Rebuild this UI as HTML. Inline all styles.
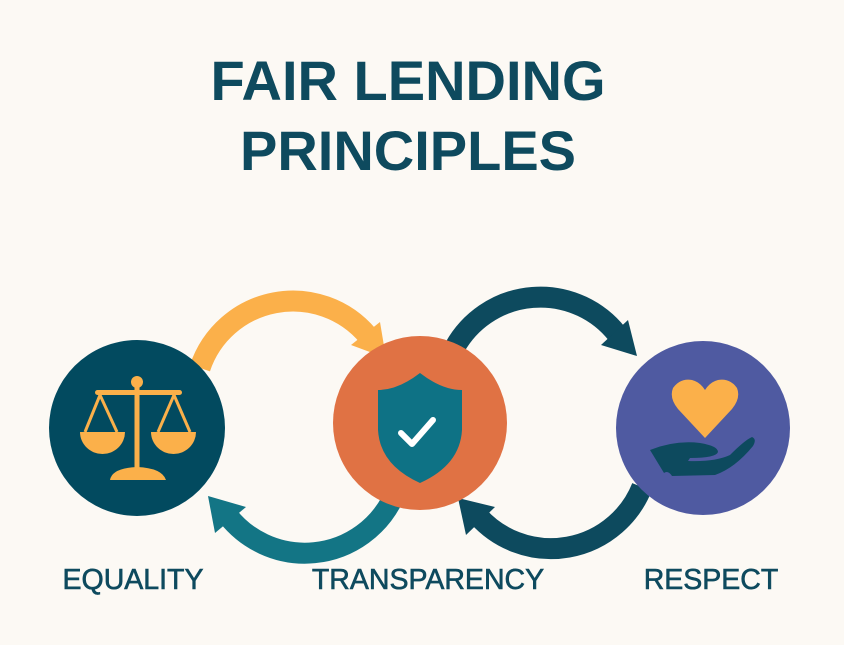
<!DOCTYPE html>
<html><head><style>
html,body{margin:0;padding:0;background:#fcf9f4;}
svg{display:block}
</style></head><body>
<svg width="844" height="645" viewBox="0 0 844 645" xmlns="http://www.w3.org/2000/svg">
<rect width="844" height="645" fill="#fcf9f4"/>
<g font-family="Liberation Sans, sans-serif" font-weight="bold" fill="#0e4a5e" text-anchor="middle">
<text x="408" y="100" font-size="56">FAIR LENDING</text>
<text x="408" y="170" font-size="56">PRINCIPLES</text>
<g font-size="28.5" font-weight="normal" stroke="#0e4a5e" stroke-width="0.6">
<text x="133" y="589">EQUALITY</text>
<text x="428" y="589">TRANSPARENCY</text>
<text x="711" y="589">RESPECT</text>
</g>
</g>
<!-- arrows -->
<g fill="none" stroke-width="21" stroke-linecap="butt">
<path d="M200,368 A98,98 0 0 1 368,336" stroke="#fbb04a"/>
<path d="M392,500 A98,98 0 0 1 228,516" stroke="#137585"/>
<path d="M455,347 A98,98 0 0 1 617,334" stroke="#0d4a5e"/>
<path d="M642,487 A98,98 0 0 1 478,516" stroke="#0d4a5e"/>
</g>
<polygon points="386,358 351,345 380,322" fill="#fbb04a"/>
<polygon points="208,496 215,533 246,507" fill="#137585"/>
<polygon points="637,356 601,345 628,320" fill="#0d4a5e"/>
<polygon points="458,498 466,535 495,507" fill="#0d4a5e"/>
<!-- circles -->
<circle cx="137" cy="428" r="88" fill="#024a5f"/>
<circle cx="420" cy="423" r="87" fill="#e07244"/>
<circle cx="703" cy="428" r="87" fill="#4f5aa1"/>
<!-- scales -->
<g fill="#fbb04a" stroke="#fbb04a">
<circle cx="137" cy="382" r="6" stroke="none"/>
<rect x="134.5" y="384" width="5" height="85" stroke="none"/>
<rect x="95" y="390" width="87" height="5" rx="2.5" stroke="none"/>
<line x1="100" y1="395" x2="85" y2="432" stroke-width="3"/>
<line x1="100" y1="395" x2="117" y2="432" stroke-width="3"/>
<line x1="174" y1="395" x2="158" y2="432" stroke-width="3"/>
<line x1="174" y1="395" x2="190" y2="432" stroke-width="3"/>
<path d="M80,432 L125,432 A22.5,22 0 0 1 80,432Z" stroke="none"/>
<path d="M151,432 L196,432 A22.5,22 0 0 1 151,432Z" stroke="none"/>
<path d="M110,480 Q112,468 137,467 Q162,468 166,480Z" stroke="none"/>
</g>
<!-- shield -->
<path d="M420,373 Q398,390 378,390 L378,430 Q380,465 420,483 Q460,465 462,430 L462,390 Q442,390 420,373Z" fill="#0e7285"/>
<polyline points="401,433 412,444 433,420" fill="none" stroke="#fff" stroke-width="6" stroke-linecap="round" stroke-linejoin="round"/>
<!-- heart -->
<path d="M705,438 L678,409 Q669,398 673,388 Q680,378 692,380 Q700,382 705,390 Q710,382 718,380 Q730,378 737,388 Q741,398 732,409Z" fill="#fbb04a"/>
<!-- hand -->
<path d="M650,450 Q675,440 700,443 Q718,446 718,452 Q716,458 690,458 L688,461 Q715,462 730,455 Q745,440 752,437 Q757,439 753,446 Q735,468 715,475 L672,476 Q668,470 664,473Z" fill="#0d4a5e"/>
</svg>
</body></html>
